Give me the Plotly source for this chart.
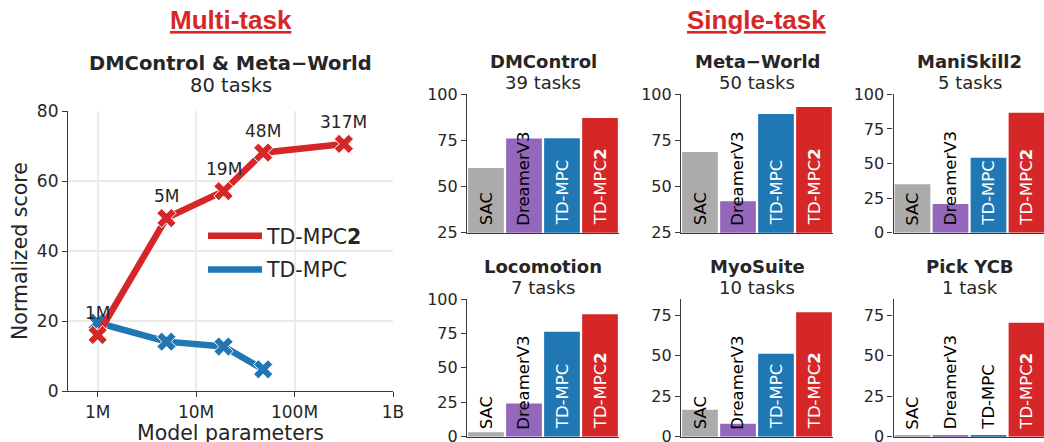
import plotly.graph_objects as go
import math

W, H = 1044, 442

# ---------------- data ----------------
methods = ["SAC", "DreamerV3", "TD-MPC", "TD-MPC2"]
method_labels = ["SAC", "DreamerV3", "TD-MPC", "TD-MPC<b>2</b>"]

tasks = ["DMControl", "Meta\u2212World", "ManiSkill2", "Locomotion", "MyoSuite", "Pick YCB"]
task_counts = ["39 tasks", "50 tasks", "5 tasks", "7 tasks", "10 tasks", "1 task"]

dmcontrol = [60.1, 76.0, 76.2, 87.2]
metaworld = [68.7, 42.0, 89.3, 93.1]
maniskill2 = [35.0, 20.7, 54.2, 86.7]
locomotion = [3.2, 24.2, 76.3, 88.9]
myosuite = [16.6, 8.0, 51.2, 76.8]
pickycb = [0.8, 0.8, 0.8, 70.3]

y_ranges = [[25, 100], [25, 100], [0, 100], [0, 100], [0, 85], [0, 85]]
y_tickvals = [[25, 50, 75, 100], [25, 50, 75, 100], [0, 25, 50, 75, 100],
              [0, 25, 50, 75, 100], [0, 25, 50, 75], [0, 25, 50, 75]]

params = [1e6, 5e6, 19e6, 48e6, 317e6]
param_labels = ["1M", "5M", "19M", "48M", "317M"]
tdmpc2_multi = [16.0, 49.4, 57.1, 68.1, 70.6]
tdmpc_multi = [19.5, 14.1, 12.7, 6.2]

x_tickvals = [1e6, 1e7, 1e8, 1e9]
x_ticktext = ["1M", "10M", "100M", "1B"]
y_tickvals_multi = [0, 20, 40, 60, 80]

# ---------------- style ----------------
FONT = "DejaVu Sans"
DARK = "#262626"
SPINE = "#3a3a3a"
GRID = "#ebebeb"
RED = "#d62728"
BLUE = "#1f77b4"
bar_colors = ["#ababab", "#9467bd", "#1f77b4", "#d62728"]
label_light = [False, False, True, True]

fig = go.Figure()

# ---------------- multi-task panel ----------------
fig.add_trace(go.Scatter(x=params[:len(tdmpc_multi)], y=tdmpc_multi, mode="lines",
                         line=dict(color=BLUE, width=6.5), name="TD-MPC",
                         legendrank=2, legendgroup="b", xaxis="x", yaxis="y"))
fig.add_trace(go.Scatter(x=params[:len(tdmpc_multi)], y=tdmpc_multi, mode="markers",
                         marker=dict(symbol="x", size=17, color=BLUE,
                                     line=dict(color="white", width=1)),
                         showlegend=False, xaxis="x", yaxis="y"))
fig.add_trace(go.Scatter(x=params, y=tdmpc2_multi, mode="lines",
                         line=dict(color=RED, width=6.5), name="TD-MPC<b>2</b>",
                         legendrank=1, legendgroup="a", xaxis="x", yaxis="y"))
fig.add_trace(go.Scatter(x=params, y=tdmpc2_multi, mode="markers",
                         marker=dict(symbol="x", size=17, color=RED,
                                     line=dict(color="white", width=1)),
                         showlegend=False, xaxis="x", yaxis="y"))

annotations = []
for xv, yv, lab in zip(params, tdmpc2_multi, param_labels):
    annotations.append(dict(x=math.log10(xv), y=yv, xref="x", yref="y", text=lab,
                            showarrow=False, yshift=22, xanchor="center", yanchor="middle",
                            font=dict(family=FONT, size=17, color=DARK)))

L_dom_x = [68 / W, 393 / W]
L_dom_y = [1 - 391 / H, 1 - 111 / H]

axis_common = dict(showline=True, linecolor=SPINE, linewidth=1.2, ticks="outside",
                   ticklen=5, tickcolor=SPINE, tickwidth=1.2, zeroline=False,
                   mirror=False, automargin=False, ticklabeloverflow="allow")

layout = dict(
    xaxis=dict(domain=L_dom_x, anchor="y", type="log",
               range=[math.log10(5e5), 9], tickvals=x_tickvals, ticktext=x_ticktext,
               showgrid=True, gridcolor=GRID, gridwidth=1.5,
               tickfont=dict(family=FONT, size=17, color=DARK), **axis_common),
    yaxis=dict(domain=L_dom_y, anchor="x", range=[0, 80], tickvals=y_tickvals_multi,
               showgrid=True, gridcolor=GRID, gridwidth=1.5,
               tickfont=dict(family=FONT, size=17, color=DARK), **axis_common),
)

# titles for multi-task panel
cx = (L_dom_x[0] + L_dom_x[1]) / 2
annotations.append(dict(x=cx, y=L_dom_y[1], xref="paper", yref="paper",
                        text="<b>DMControl & Meta\u2212World</b>", showarrow=False,
                        yshift=48, xanchor="center", yanchor="middle",
                        font=dict(family=FONT, size=19.5, color=DARK)))
annotations.append(dict(x=cx, y=L_dom_y[1], xref="paper", yref="paper",
                        text="80 tasks", showarrow=False, yshift=26,
                        xanchor="center", yanchor="middle",
                        font=dict(family=FONT, size=19.5, color=DARK)))
annotations.append(dict(x=20 / W, y=(L_dom_y[0] + L_dom_y[1]) / 2, xref="paper",
                        yref="paper", text="Normalized score", textangle=-90,
                        showarrow=False, xanchor="center", yanchor="middle",
                        font=dict(family=FONT, size=20.5, color=DARK)))
annotations.append(dict(x=cx, y=1 - 433 / H, xref="paper", yref="paper",
                        text="Model parameters", showarrow=False,
                        xanchor="center", yanchor="middle",
                        font=dict(family=FONT, size=20.5, color=DARK)))

# section headers
annotations.append(dict(x=231 / W, y=1 - 20 / H, xref="paper", yref="paper",
                        text="<b><u>Multi-task</u></b>", showarrow=False,
                        xanchor="center", yanchor="middle",
                        font=dict(family="Liberation Sans", size=26, color=RED)))
annotations.append(dict(x=756 / W, y=1 - 20 / H, xref="paper", yref="paper",
                        text="<b><u>Single-task</u></b>", showarrow=False,
                        xanchor="center", yanchor="middle",
                        font=dict(family="Liberation Sans", size=26, color=RED)))

# ---------------- single-task panels ----------------
task_values = [dmcontrol, metaworld, maniskill2, locomotion, myosuite, pickycb]
col_x = [[467 / W, 619 / W], [681 / W, 833 / W], [893.5 / W, 1.0]]
row_y = [[1 - 232.7 / H, 1 - 94.3 / H], [1 - 436.7 / H, 1 - 299 / H]]

for k, (vals, rng, tv) in enumerate(zip(task_values, y_ranges, y_tickvals)):
    n = k + 2
    r, c = divmod(k, 3)
    xd, yd = col_x[c], row_y[r]
    xr = [-0.5, 3.5] if c < 2 else [-0.5, -0.5 + (W - 893.5) / 38.0]
    fig.add_trace(go.Bar(x=list(range(len(methods))), y=vals, marker=dict(color=bar_colors,
                         line=dict(width=0)), showlegend=False, xaxis=f"x{n}",
                         yaxis=f"y{n}", hoverinfo="y"))
    layout[f"xaxis{n}"] = dict(domain=xd, anchor=f"y{n}", range=xr, showticklabels=False,
                               showgrid=False, showline=True, linecolor=SPINE,
                               linewidth=1.2, ticks="", zeroline=False, automargin=False)
    layout[f"yaxis{n}"] = dict(domain=yd, anchor=f"x{n}", range=rng, tickvals=tv,
                               showgrid=False,
                               tickfont=dict(family=FONT, size=16, color=DARK),
                               **axis_common)
    span = rng[1] - rng[0]
    for i, (v, lab) in enumerate(zip(vals, method_labels)):
        light = label_light[i] and (v - rng[0]) / span > 0.45
        annotations.append(dict(x=i, y=rng[0], xref=f"x{n}", yref=f"y{n}", text=lab,
                                textangle=-90, showarrow=False, xanchor="center",
                                yanchor="bottom", yshift=5,
                                font=dict(family=FONT, size=16.5,
                                          color="white" if light else "black")))
    tcx = (xd[0] + xd[1]) / 2 if c < 2 else (xd[0] + xd[0] + 152 / W) / 2
    annotations.append(dict(x=tcx, y=yd[1], xref="paper", yref="paper",
                            text=f"<b>{tasks[k]}</b>", showarrow=False, yshift=33,
                            xanchor="center", yanchor="middle",
                            font=dict(family=FONT, size=18, color=DARK)))
    annotations.append(dict(x=tcx, y=yd[1], xref="paper", yref="paper",
                            text=task_counts[k], showarrow=False, yshift=11.5,
                            xanchor="center", yanchor="middle",
                            font=dict(family=FONT, size=18, color=DARK)))

layout.update(dict(
    width=W, height=H,
    margin=dict(l=0, r=0, t=0, b=0, autoexpand=False),
    paper_bgcolor="white", plot_bgcolor="white",
    bargap=0.06,
    showlegend=True,
    legend=dict(x=203 / W, y=1 - 216 / H, xanchor="left", yanchor="top",
                bgcolor="rgba(0,0,0,0)", font=dict(family=FONT, size=20.5, color=DARK),
                itemwidth=54, tracegroupgap=4),
    annotations=annotations,
    font=dict(family=FONT, color=DARK),
))
fig.update_layout(layout)
fig.write_html("out.html", post_script="document.body.style.margin='0';",
               config={"displayModeBar": False})
